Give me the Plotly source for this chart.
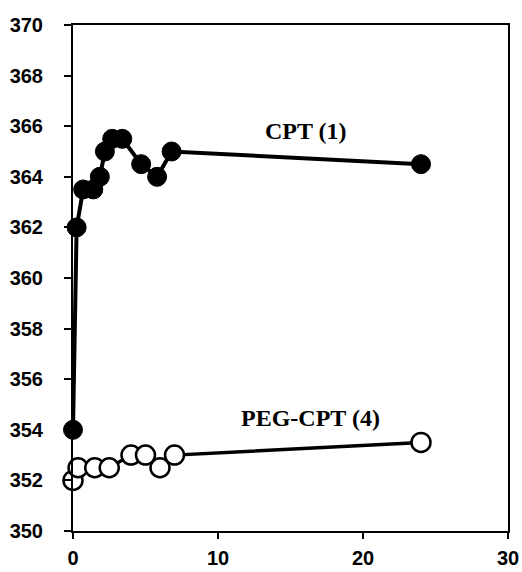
import plotly.graph_objects as go

# Data
cpt_x = [0, 0.25, 0.7, 1.4, 1.85, 2.2, 2.7, 3.4, 4.7, 5.8, 6.8, 24]
cpt_y = [354, 362, 363.5, 363.5, 364, 365, 365.5, 365.5, 364.5, 364, 365, 364.5]
peg_x = [0, 0.35, 1.5, 2.5, 4.0, 5.0, 6.0, 7.0, 24]
peg_y = [352, 352.5, 352.5, 352.5, 353, 353, 352.5, 353, 353.5]
y_ticks = [350, 352, 354, 356, 358, 360, 362, 364, 366, 368, 370]
x_ticks = [0, 10, 20, 30]
labels = ["CPT (1)", "PEG-CPT (4)"]
label_pos = [(16.1, 365.8), (16.4, 354.45)]

fig = go.Figure()
fig.add_trace(go.Scatter(
    x=peg_x, y=peg_y, mode="lines+markers", cliponaxis=False,
    line=dict(color="black", width=3.5),
    marker=dict(symbol="circle", size=19, color="white",
                line=dict(color="black", width=2.5)),
    showlegend=False))
fig.add_trace(go.Scatter(
    x=cpt_x, y=cpt_y, mode="lines+markers", cliponaxis=False,
    line=dict(color="black", width=4),
    marker=dict(symbol="circle", size=19, color="black",
                line=dict(color="black", width=1)),
    showlegend=False))

for txt, (lx, ly) in zip(labels, label_pos):
    fig.add_annotation(x=lx, y=ly, text="<b>%s</b>" % txt, showarrow=False,
                       font=dict(family="Liberation Serif", size=24, color="black"),
                       xanchor="center", yanchor="middle")

fig.update_layout(
    width=522, height=572,
    margin=dict(l=73, r=14, t=25, b=41),
    paper_bgcolor="white", plot_bgcolor="white",
    font=dict(family="Liberation Sans", color="black"),
)
fig.update_xaxes(
    range=[0, 30], tickvals=x_ticks, ticktext=["<b>%d</b>" % v for v in x_ticks],
    ticks="outside", ticklen=6, tickwidth=2, tickcolor="black",
    showline=True, linewidth=2, linecolor="black", mirror=True,
    showgrid=False, zeroline=False, automargin=False,
    tickfont=dict(family="Liberation Sans", size=20, color="black"),
    ticklabelstandoff=2,
)
fig.update_yaxes(
    range=[350, 370], tickvals=y_ticks, ticktext=["<b>%d</b>" % v for v in y_ticks],
    ticks="outside", ticklen=7, tickwidth=2, tickcolor="black",
    showline=True, linewidth=2, linecolor="black", mirror=True,
    showgrid=False, zeroline=False, automargin=False,
    tickfont=dict(family="Liberation Sans", size=20, color="black"),
    ticklabelstandoff=17,
)

fig.write_html("out.html")
